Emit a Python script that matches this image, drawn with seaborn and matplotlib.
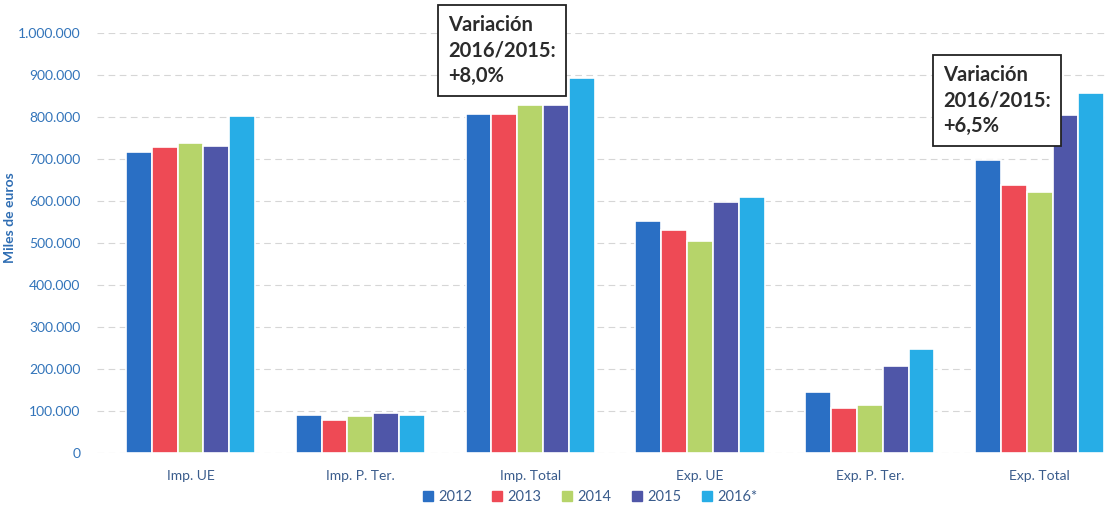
import pandas as pd
import seaborn as sns
import matplotlib.pyplot as plt
from matplotlib.lines import Line2D

# Data (miles de euros)
categories = ['Imp. UE', 'Imp. P. Ter.', 'Imp. Total', 'Exp. UE', 'Exp. P. Ter.', 'Exp. Total']
years = ['2012', '2013', '2014', '2015', '2016*']
v2012 = [716000, 90000, 807000, 552000, 145000, 698000]
v2013 = [729000, 79000, 807000, 531000, 107000, 638000]
v2014 = [738000, 88000, 829000, 505000, 114000, 622000]
v2015 = [731000, 95000, 829000, 598000, 207000, 805000]
v2016 = [802000, 90000, 893000, 610000, 248000, 856000]
colors = ['#2a6fc4', '#ee4a55', '#b6d46a', '#4f56a8', '#27ade6']

rows = []
for year, vals in zip(years, [v2012, v2013, v2014, v2015, v2016]):
    for cat, v in zip(categories, vals):
        rows.append({'cat': cat, 'year': year, 'value': v})
df = pd.DataFrame(rows)

sns.set_style('white')
plt.rcParams['font.family'] = ['Lato', 'DejaVu Sans']

fig = plt.figure(figsize=(11.06, 5.08), dpi=100)
ax = fig.add_axes([97 / 1106, 55 / 508, 1 - 97 / 1106, 420 / 508])

sns.barplot(data=df, x='cat', y='value', hue='year', palette=colors,
            width=0.76, saturation=1, ax=ax, legend=False,
            edgecolor='white', linewidth=1.2)

ax.set_ylim(0, 1000000)
ax.set_xlim(-0.55, 5.39)
ax.set_yticks(range(0, 1000001, 100000))
ax.set_yticklabels(['0'] + [f'{v:,}'.replace(',', '.') for v in range(100000, 1000001, 100000)])
ax.tick_params(axis='y', colors='#3274ba', labelsize=10, length=0, pad=12)
ax.tick_params(axis='x', colors='#3a5c8c', labelsize=10, length=0, pad=12)
ax.set_xlabel('')
ax.set_ylabel('Miles de euros', color='#2e6db3', fontsize=10, fontweight='bold')
ax.yaxis.set_label_coords(-0.08, 0.56)
ax.yaxis.grid(True, linestyle=(0, (6, 4)), color='#d6d6d6', linewidth=0.8)
ax.set_axisbelow(True)
for s in ax.spines.values():
    s.set_visible(False)

box = dict(boxstyle='square,pad=0.5', facecolor='white', edgecolor='#222222', linewidth=1.3)
ax.text(1.517, 1043000, 'Variación\n2016/2015:\n+8,0%', fontsize=14.5, fontweight='bold',
        color='#2b2b2b', va='top', ha='left', linespacing=1.34, bbox=box, clip_on=False)
ax.text(4.43, 924000, 'Variación\n2016/2015:\n+6,5%', fontsize=14.5, fontweight='bold',
        color='#2b2b2b', va='top', ha='left', linespacing=1.34, bbox=box, clip_on=False)

handles = [Line2D([], [], marker='s', linestyle='', markersize=7, color=c) for c in colors]
fig.legend(handles, years, loc='center', bbox_to_anchor=(0.533, 0.022), ncol=5,
           frameon=False, fontsize=10.5, handlelength=0.8, handletextpad=0.3,
           columnspacing=1.35, labelcolor='#3a5c8c')

fig.savefig('out.png', dpi=100)
